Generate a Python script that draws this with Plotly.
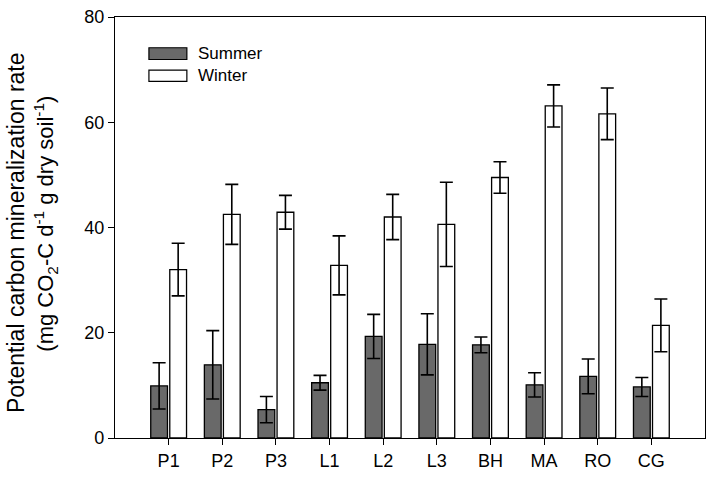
import plotly.graph_objects as go

categories = ["P1", "P2", "P3", "L1", "L2", "L3", "BH", "MA", "RO", "CG"]
summer = [9.9, 13.9, 5.4, 10.5, 19.3, 17.8, 17.7, 10.1, 11.7, 9.7]
summer_err = [4.4, 6.5, 2.5, 1.4, 4.2, 5.8, 1.5, 2.3, 3.3, 1.8]
winter = [32.0, 42.5, 42.9, 32.8, 42.0, 40.6, 49.5, 63.1, 61.6, 21.4]
winter_err = [5.0, 5.7, 3.2, 5.6, 4.3, 8.0, 3.0, 4.0, 4.9, 5.0]
y_ticks = [0, 20, 40, 60, 80]

FONT = "Liberation Sans, Arial, sans-serif"

fig = go.Figure()
fig.add_trace(go.Bar(
    x=categories, y=summer, name="Summer",
    marker=dict(color="#696969", line=dict(color="#000000", width=1.3)),
    error_y=dict(type="data", array=summer_err, visible=True,
                 color="#000000", thickness=1.6, width=6.5),
))
fig.add_trace(go.Bar(
    x=categories, y=winter, name="Winter",
    marker=dict(color="#ffffff", line=dict(color="#000000", width=1.3)),
    error_y=dict(type="data", array=winter_err, visible=True,
                 color="#000000", thickness=1.6, width=6.5),
))

# manual legend (wide swatches as in the reference)
legend_items = [("Summer", "#696969", 0.927, 0.899), ("Winter", "#ffffff", 0.874, 0.847)]
for name, col, y1, y0 in legend_items:
    fig.add_shape(type="rect", xref="paper", yref="paper",
                  x0=0.0575, x1=0.1218, y0=y0, y1=y1,
                  fillcolor=col, line=dict(color="#000000", width=1.2))
    fig.add_annotation(text=name, xref="paper", yref="paper",
                       x=0.138, y=(y0 + y1) / 2, xanchor="left", yanchor="middle",
                       showarrow=False, font=dict(family=FONT, size=17, color="#000000"))

# y-axis title (two lines)
fig.add_annotation(text="Potential carbon mineralization rate",
                   xref="paper", yref="paper", x=-0.168, y=0.489,
                   xanchor="center", yanchor="middle", textangle=-90, showarrow=False,
                   font=dict(family=FONT, size=23, color="#000000"))
fig.add_annotation(text="(mg CO<sub>2</sub>-C d<sup>-1</sup> g dry soil<sup>-1</sup>)",
                   xref="paper", yref="paper", x=-0.118, y=0.51,
                   xanchor="center", yanchor="middle", textangle=-90, showarrow=False,
                   font=dict(family=FONT, size=22, color="#000000"))

fig.update_layout(
    width=713, height=479,
    margin=dict(l=115, r=7, t=13, b=41),
    paper_bgcolor="#ffffff", plot_bgcolor="#ffffff",
    barmode="group", bargap=0.29, bargroupgap=0.12,
    showlegend=False,
    font=dict(family=FONT, size=18, color="#000000"),
)
fig.update_xaxes(
    range=[-1, 10], showline=True, linecolor="#000000", linewidth=1.3, mirror=True,
    ticks="outside", ticklen=6, tickwidth=1.3, tickcolor="#000000",
    showgrid=False, zeroline=False, tickfont=dict(family=FONT, size=18),
)
fig.update_yaxes(
    range=[0, 80], tickvals=y_ticks, showline=True, linecolor="#000000", linewidth=1.3,
    mirror=True, ticks="outside", ticklen=6, tickwidth=1.3, tickcolor="#000000",
    showgrid=False, zeroline=False, tickfont=dict(family=FONT, size=18),
)

fig.write_html("out.html", post_script="document.body.style.margin='0';",
               config={"displayModeBar": False})
